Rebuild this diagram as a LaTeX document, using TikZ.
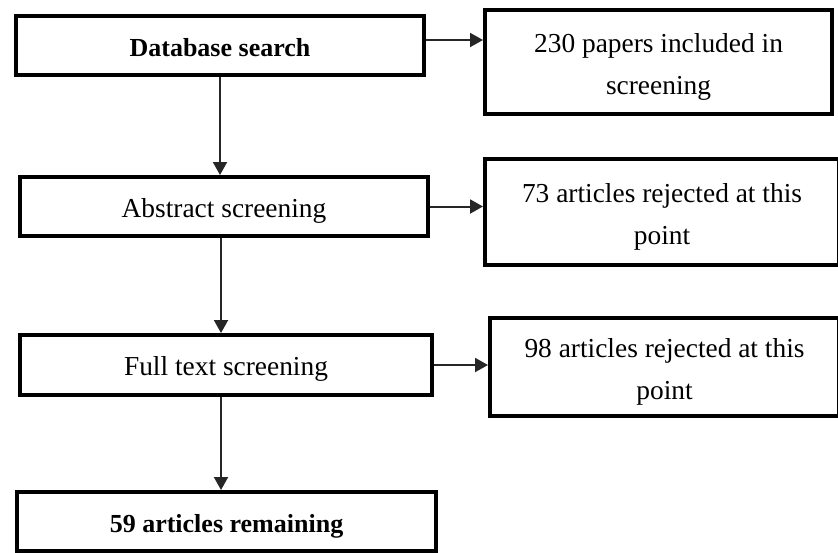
\documentclass[tikz,border=0pt]{standalone}
\usepackage{fontspec}
\setmainfont{Liberation Serif}
\usetikzlibrary{arrows.meta, positioning}
\newcommand{\topgap}{\rule{0pt}{14.5pt}}

\begin{document}
\begin{tikzpicture}[
  x=0.5pt, y=-0.5pt,
  font=\fontsize{13.7}{21}\selectfont,
  >={Triangle[length=6.5pt, width=7pt]},
  stage/.style={draw, line width=2pt, minimum height=29.5pt,
                inner sep=0pt, align=center,
                text height=13.9pt, text depth=3pt},
  key/.style={font=\fontsize{13}{21}\selectfont\bfseries},
  result/.style={draw, line width=2pt, inner sep=0pt, align=center},
  arr/.style={->, line width=1pt, draw=black!85},
]
\useasboundingbox (0,0) rectangle (838,552);

\node[stage, key, minimum width=204pt] (search) at (220,45.5) {Database search};
\node[stage, minimum width=204pt] (abstract) at (224,206.5) {Abstract screening};
\node[stage, minimum width=206pt, minimum height=30pt] (fulltext) at (226,365)
  {Full text screening};
\node[stage, key, minimum width=209.5pt] (remain) at (226.5,521.5)
  {59 articles remaining};

\node[result, minimum width=173.5pt, minimum height=52pt] (papers) at (658.5,62)
  {\topgap 230 papers included in\\screening};
\node[result, minimum width=177pt, minimum height=53pt] (rej1) at (662,212)
  {\topgap 73 articles rejected at this\\point};
\node[result, minimum width=174.5pt, minimum height=49pt] (rej2) at (664.5,367)
  {\topgap 98 articles rejected at this\\point};

\draw[arr] ([yshift=2.75pt]search.east) -- ([yshift=2.75pt]search.east -| papers.west);
\draw[arr] (abstract.east) -- (abstract.east -| rej1.west);
\draw[arr] (fulltext.east) -- (fulltext.east -| rej2.west);

\draw[arr] (search.south) -- (search.south |- abstract.north);
\draw[arr] ([xshift=-1.5pt]abstract.south) -- ([xshift=-1.5pt]abstract.south |- fulltext.north);
\draw[arr] ([xshift=-2.5pt]fulltext.south) -- ([xshift=-2.5pt]fulltext.south |- remain.north);
\end{tikzpicture}
\end{document}
